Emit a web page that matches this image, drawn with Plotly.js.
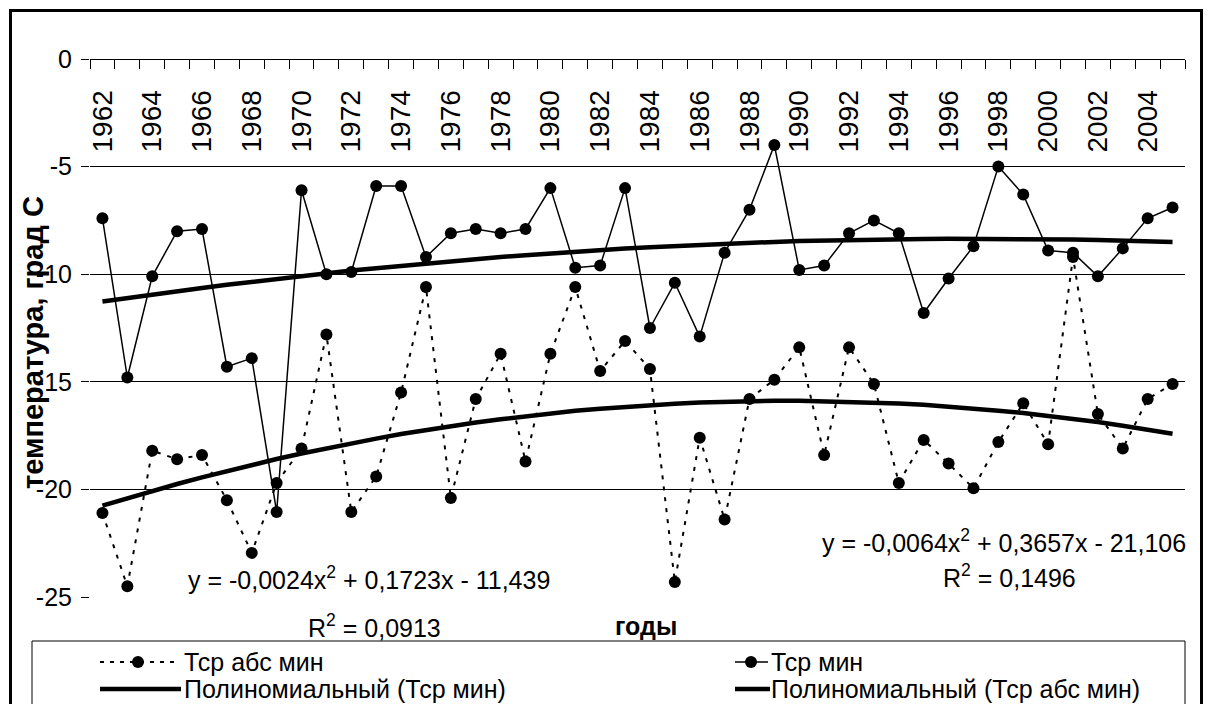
<!DOCTYPE html>
<html>
<head>
<meta charset="utf-8">
<script src="https://cdn.plot.ly/plotly-3.0.1.min.js"></script>
<style>
html,body{margin:0;padding:0;background:#fff;}
#chart{width:1208px;height:704px;}
</style>
</head>
<body>
<div id="chart"></div>
<script>
// ---- data ----
const years = [1962,1963,1964,1965,1966,1967,1968,1969,1970,1971,1972,1973,1974,1975,1976,1977,1978,1979,1980,1981,1982,1983,1984,1985,1986,1987,1988,1989,1990,1991,1992,1993,1994,1995,1996,1997,1998,1999,2000,2001,2002,2003,2004,2005];
const labelYears = [1962,1964,1966,1968,1970,1972,1974,1976,1978,1980,1982,1984,1986,1988,1990,1992,1994,1996,1998,2000,2002,2004];
const tickLabels = ["1962","1964","1966","1968","1970","1972","1974","1976","1978","1980","1982","1984","1986","1988","1990","1992","1994","1996","1998","2000","2002","2004"];
const tsrMin = [-7.4,-14.8,-10.1,-8.0,-7.9,-14.3,-13.9,-21.05,-6.1,-10.0,-9.9,-5.9,-5.9,-9.2,-8.1,-7.9,-8.1,-7.9,-6.0,-9.7,-9.6,-6.0,-12.5,-10.4,-12.9,-9.0,-7.0,-4.0,-9.8,-9.6,-8.1,-7.5,-8.1,-11.8,-10.2,-8.7,-5.0,-6.3,-8.9,-9.0,-10.1,-8.8,-7.4,-6.9];
const tsrAbsMin = [-21.1,-24.5,-18.2,-18.6,-18.4,-20.5,-22.95,-19.7,-18.1,-12.8,-21.05,-19.4,-15.5,-10.6,-20.4,-15.8,-13.7,-18.7,-13.7,-10.6,-14.5,-13.1,-14.4,-24.3,-17.6,-21.4,-15.8,-14.9,-13.4,-18.4,-13.4,-15.1,-19.7,-17.7,-18.8,-19.95,-17.8,-16.0,-17.9,-9.2,-16.5,-18.1,-15.8,-15.1];
const trendMin = [-11.27,-11.10,-10.94,-10.79,-10.64,-10.49,-10.35,-10.21,-10.08,-9.96,-9.83,-9.72,-9.61,-9.50,-9.40,-9.30,-9.20,-9.12,-9.03,-8.95,-8.88,-8.81,-8.75,-8.69,-8.63,-8.58,-8.54,-8.50,-8.46,-8.43,-8.40,-8.38,-8.37,-8.36,-8.35,-8.35,-8.35,-8.36,-8.37,-8.39,-8.41,-8.44,-8.47,-8.50];
const trendAbsMin = [-20.75,-20.40,-20.07,-19.75,-19.44,-19.14,-18.86,-18.59,-18.33,-18.09,-17.86,-17.64,-17.43,-17.24,-17.06,-16.89,-16.74,-16.60,-16.47,-16.35,-16.25,-16.16,-16.08,-16.02,-15.96,-15.92,-15.90,-15.88,-15.88,-15.90,-15.92,-15.96,-16.01,-16.07,-16.15,-16.24,-16.34,-16.45,-16.58,-16.72,-16.87,-17.04,-17.22,-17.41];
const yTicks = [0,-5,-10,-15,-20,-25];
const seriesNames = ["Тср абс мин","Тср мин","Полиномиальный (Тср мин)","Полиномиальный (Тср абс мин)"];

// ---- layout helpers ----
const ML=90, MT=59, PW=1095, PH=538;
const px = x => (x-ML)/PW;
const py = y => (MT+PH-y)/PH;
const FONT = "Liberation Sans, Arial, Helvetica, sans-serif";

const traces = [
  {x:years, y:trendMin, type:'scatter', mode:'lines', line:{color:'#000', width:4.5}, showlegend:false, hoverinfo:'skip'},
  {x:years, y:trendAbsMin, type:'scatter', mode:'lines', line:{color:'#000', width:4.5}, showlegend:false, hoverinfo:'skip'},
  {x:years, y:tsrAbsMin, type:'scatter', mode:'lines+markers', name:seriesNames[0],
   line:{color:'#000', width:2, dash:'4px,7px'}, marker:{symbol:'circle', size:12, color:'#000'}, showlegend:false},
  {x:years, y:tsrMin, type:'scatter', mode:'lines+markers', name:seriesNames[1],
   line:{color:'#000', width:1.5}, marker:{symbol:'circle', size:12, color:'#000'}, showlegend:false}
];

const shapes = [
  // outer frame
  {type:'rect', xref:'paper', yref:'paper', x0:px(10.5), x1:px(1201.5), y0:py(740), y1:py(10.5), line:{color:'#000', width:3}},
  // legend box
  {type:'rect', xref:'paper', yref:'paper', x0:px(32), x1:px(1185), y0:py(740), y1:py(641), line:{color:'#000', width:1}},
  // legend samples
  {type:'line', xref:'paper', yref:'paper', x0:px(100), x1:px(176), y0:py(662), y1:py(662), line:{color:'#000', width:2, dash:'4px,6px'}},
  {type:'circle', xref:'paper', yref:'paper', x0:px(132), x1:px(144), y0:py(668), y1:py(656), fillcolor:'#000', line:{color:'#000', width:0}},
  {type:'line', xref:'paper', yref:'paper', x0:px(735), x1:px(768), y0:py(662), y1:py(662), line:{color:'#000', width:1.5}},
  {type:'circle', xref:'paper', yref:'paper', x0:px(745), x1:px(757), y0:py(668), y1:py(656), fillcolor:'#000', line:{color:'#000', width:0}},
  {type:'line', xref:'paper', yref:'paper', x0:px(100), x1:px(181), y0:py(689), y1:py(689), line:{color:'#000', width:4.5}},
  {type:'line', xref:'paper', yref:'paper', x0:px(735), x1:px(770), y0:py(689), y1:py(689), line:{color:'#000', width:4.5}}
];

const ann = (text, x, y, opts={}) => Object.assign({
  text:text, xref:'paper', yref:'paper', x:px(x), y:py(y), xanchor:'left', yanchor:'middle',
  showarrow:false, font:{family:FONT, size:25, color:'#000'}
}, opts);

const annotations = [
  ann('<b>температура, град С</b>', 33, 343, {xanchor:'center', textangle:-90, font:{family:FONT, size:29, color:'#000'}}),
  ann('<b>годы</b>', 613, 626),
  ann('y = -0,0024x<sup>2</sup> + 0,1723x - 11,439', 186, 578),
  ann('R<sup>2</sup> = 0,0913', 306, 626),
  ann('y = -0,0064x<sup>2</sup> + 0,3657x - 21,106', 820, 541),
  ann('R<sup>2</sup> = 0,1496', 941, 576),
  ann(seriesNames[0], 182, 662),
  ann(seriesNames[1], 769, 662),
  ann(seriesNames[2], 182, 689),
  ann(seriesNames[3], 769, 689)
];

const layout = {
  width:1208, height:704,
  margin:{l:ML, r:1208-ML-PW, t:MT, b:704-MT-PH, pad:0},
  paper_bgcolor:'#fff', plot_bgcolor:'#fff',
  font:{family:FONT, color:'#000'},
  showlegend:false,
  xaxis:{
    type:'linear', range:[1961.5, 2005.5],
    tickmode:'array', tickvals:labelYears, ticktext:tickLabels,
    anchor:'free', position:1, side:'bottom',
    showline:true, linecolor:'#000', linewidth:1,
    ticks:'', tickangle:-90, tickfont:{family:FONT, size:28, color:'#000'}, ticklabelstandoff:19,
    minor:{tick0:1961.5, dtick:1, ticks:'outside', ticklen:9, tickcolor:'#000', tickwidth:1, showgrid:false},
    showgrid:false, zeroline:false, fixedrange:true
  },
  yaxis:{
    range:[-25,0], tickvals:yTicks, ticktext:yTicks.map(String),
    showline:false, ticks:'outside', ticklen:8, tickcolor:'#000', tickwidth:1,
    tickfont:{family:FONT, size:25, color:'#000'}, ticklabelstandoff:4,
    showgrid:true, gridcolor:'#000', gridwidth:1, zeroline:false, fixedrange:true
  },
  shapes:shapes,
  annotations:annotations
};

Plotly.newPlot('chart', traces, layout, {displayModeBar:false, staticPlot:true});
</script>
</body>
</html>
